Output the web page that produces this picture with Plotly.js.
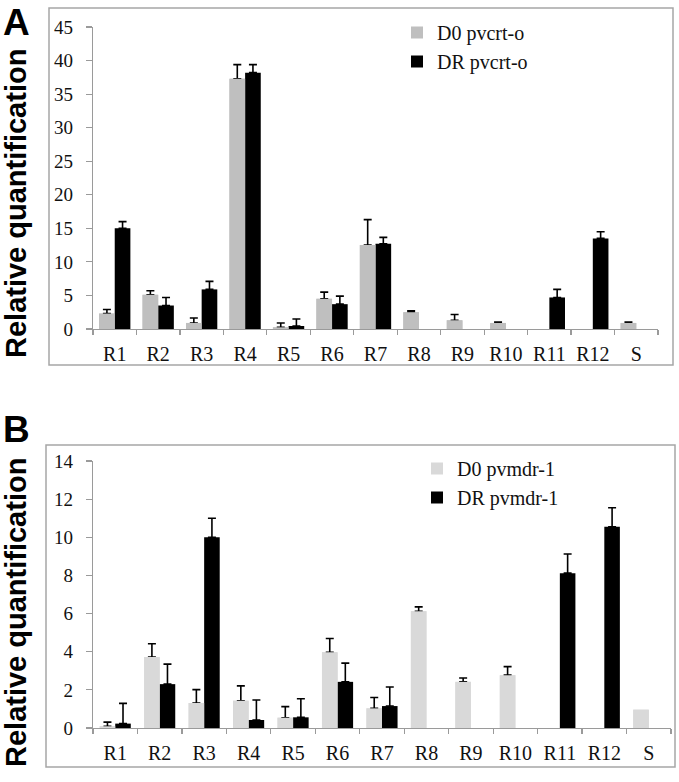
<!DOCTYPE html>
<html>
<head>
<meta charset="utf-8">
<script src="https://cdn.plot.ly/plotly-3.0.1.min.js"></script>
<style>html,body{margin:0;padding:0;background:#fff;}#chart{width:679px;height:782px;}</style>
</head>
<body>
<div id="chart"></div>
<script>
// ---- data ----
var categories = ['R1','R2','R3','R4','R5','R6','R7','R8','R9','R10','R11','R12','S'];

// Panel A: pvcrt-o
var crtD0    = [2.3, 5.1, 0.9, 37.3, 0.25, 4.5, 12.5, 2.5, 1.3, 0.9, null, null, 0.9];
var crtD0Err = [0.6, 0.6, 0.75, 2.1, 0.65, 1.0, 3.8, 0.2, 0.85, 0.15, null, null, 0.15];
var crtDR    = [15.0, 3.5, 5.9, 38.2, 0.45, 3.7, 12.7, null, null, null, 4.7, 13.5, null];
var crtDRErr = [1.0, 1.2, 1.2, 1.2, 1.05, 1.2, 0.95, null, null, null, 1.2, 1.0, null];

// Panel B: pvmdr-1
var mdrD0    = [0.09, 3.72, 1.31, 1.43, 0.54, 3.97, 1.03, 6.12, 2.42, 2.77, null, null, 0.96];
var mdrD0Err = [0.22, 0.7, 0.7, 0.78, 0.58, 0.72, 0.57, 0.23, 0.2, 0.45, null, null, null];
var mdrDR    = [0.23, 2.3, 10.0, 0.42, 0.56, 2.42, 1.15, null, null, null, 8.12, 10.55, null];
var mdrDRErr = [1.06, 1.05, 1.0, 1.05, 0.97, 0.98, 1.0, null, null, null, 1.0, 1.0, null];

var legendA = ['D0 pvcrt-o', 'DR pvcrt-o'];
var legendB = ['D0 pvmdr-1', 'DR pvmdr-1'];
var yTitle = 'Relative quantification';

// ---- helpers ----
var W = 679, H = 782;
function px(x){ return x / W; }
function py(y){ return 1 - y / H; }
function upErr(arr){
  return {
    type: 'data', symmetric: false, visible: true,
    array: arr.map(function(v){ return v == null ? NaN : v; }),
    arrayminus: arr.map(function(v){ return v == null ? NaN : 0; }),
    color: '#000', thickness: 1.6, width: 4
  };
}
function barTrace(vals, err, name, color, xa, ya, off, w, leg, showleg){
  var t = {
    type: 'bar', x: categories, y: vals, name: name,
    xaxis: xa, yaxis: ya, offset: off, width: w,
    marker: {color: color, line: {width: 0}},
    showlegend: showleg, legend: leg, hoverinfo: 'skip'
  };
  if (err) t.error_y = upErr(err);
  return t;
}

var greyA = '#bfbfbf', greyB = '#d9d9d9', black = '#000000';
var wA = 0.36, wB = 0.35;

var data = [
  barTrace(crtD0, crtD0Err, legendA[0], greyA, 'x', 'y', -wA, wA, 'legend', true),
  barTrace(crtDR, crtDRErr, legendA[1], black, 'x', 'y', 0, wA, 'legend', true),
  barTrace(crtD0, null, legendA[0], greyA, 'x', 'y', -wA, wA, 'legend', false),
  barTrace(mdrD0, mdrD0Err, legendB[0], greyB, 'x2', 'y2', -wB, wB, 'legend2', true),
  barTrace(mdrDR, mdrDRErr, legendB[1], black, 'x2', 'y2', 0, wB, 'legend2', true),
  barTrace(mdrD0, null, legendB[0], greyB, 'x2', 'y2', -wB, wB, 'legend2', false)
];

var serif = 'Liberation Serif';
var sans = 'Liberation Sans';
var axisGrey = '#9a9a9a';

function xAxis(domain, anchor){
  return {
    domain: domain, anchor: anchor, type: 'category',
    tickson: 'boundaries', ticks: 'outside', ticklen: 5, tickwidth: 1.2, tickcolor: axisGrey,
    showline: true, linecolor: axisGrey, linewidth: 1.3,
    showgrid: false, zeroline: false,
    tickfont: {family: serif, size: 20, color: '#111'},
    ticklabelstandoff: 7, fixedrange: true
  };
}
function yAxis(domain, anchor, range, dtick){
  return {
    domain: domain, anchor: anchor, range: range, dtick: dtick,
    ticks: 'outside', ticklen: 6, tickwidth: 1.2, tickcolor: axisGrey,
    showline: true, linecolor: axisGrey, linewidth: 1.3,
    showgrid: false, zeroline: false,
    tickfont: {family: serif, size: 19, color: '#111'},
    ticklabelstandoff: 9, fixedrange: true
  };
}

var layout = {
  width: W, height: H,
  margin: {l: 0, r: 0, t: 0, b: 0},
  paper_bgcolor: '#fff', plot_bgcolor: 'rgba(0,0,0,0)',
  barmode: 'overlay',
  showlegend: true,
  xaxis: xAxis([px(93), px(658)], 'y'),
  yaxis: yAxis([py(329), py(27)], 'x', [0, 45], 5),
  xaxis2: xAxis([px(93), px(671)], 'y2'),
  yaxis2: yAxis([py(728), py(461)], 'x2', [0, 14], 2),
  legend: {
    x: px(397), y: py(13), xanchor: 'left', yanchor: 'top',
    bgcolor: 'rgba(0,0,0,0)', borderwidth: 0,
    font: {family: serif, size: 20, color: '#111'},
    traceorder: 'normal', tracegroupgap: 0
  },
  legend2: {
    x: px(417), y: py(449), xanchor: 'left', yanchor: 'top',
    bgcolor: 'rgba(0,0,0,0)', borderwidth: 0,
    font: {family: serif, size: 20, color: '#111'},
    traceorder: 'normal', tracegroupgap: 0
  },
  shapes: [
    {type: 'rect', xref: 'paper', yref: 'paper', x0: px(49), x1: px(673), y0: py(365), y1: py(8),
     line: {color: '#a6a6a6', width: 1.5}, fillcolor: 'rgba(0,0,0,0)', layer: 'below'},
    {type: 'rect', xref: 'paper', yref: 'paper', x0: px(46), x1: px(675), y0: py(767), y1: py(445),
     line: {color: '#a6a6a6', width: 1.5}, fillcolor: 'rgba(0,0,0,0)', layer: 'below'}
  ],
  annotations: [
    {text: 'A', xref: 'paper', yref: 'paper', x: px(16.5), y: 1, xanchor: 'center', yanchor: 'top',
     showarrow: false, font: {family: sans, size: 37, color: '#000', weight: 'bold'}},
    {text: 'B', xref: 'paper', yref: 'paper', x: px(16.5), y: py(407), xanchor: 'center', yanchor: 'top',
     showarrow: false, font: {family: sans, size: 37, color: '#000', weight: 'bold'}},
    {text: yTitle, xref: 'paper', yref: 'paper', x: px(16), y: py(204), xanchor: 'center', yanchor: 'middle',
     textangle: -90, showarrow: false, font: {family: sans, size: 29, color: '#000', weight: 'bold'}},
    {text: yTitle, xref: 'paper', yref: 'paper', x: px(16), y: py(613), xanchor: 'center', yanchor: 'middle',
     textangle: -90, showarrow: false, font: {family: sans, size: 29, color: '#000', weight: 'bold'}}
  ]
};

Plotly.newPlot('chart', data, layout, {displayModeBar: false, staticPlot: true});
</script>
</body>
</html>
